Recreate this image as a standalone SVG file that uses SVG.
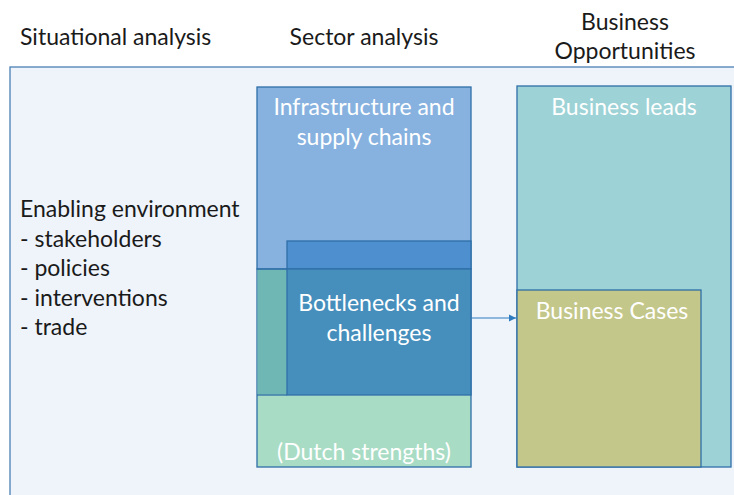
<svg xmlns="http://www.w3.org/2000/svg" width="734" height="495" viewBox="0 0 734 495">
<defs>
<style>
.hd{font-family:Lato,"Open Sans","Liberation Sans",sans-serif;font-size:23px;fill:#1a1a1a}
.wt{font-family:Lato,"Open Sans","Liberation Sans",sans-serif;font-size:23px;fill:#ffffff;text-anchor:middle}
.bx{stroke:#2f6fa8;stroke-width:1.3}
</style>
<marker id="ah" markerWidth="8" markerHeight="8" refX="7" refY="4" orient="auto" markerUnits="userSpaceOnUse">
<path d="M0,0.5 L7,4 L0,7.5 Z" fill="#2f7bc0"/>
</marker>
</defs>
<rect width="734" height="495" fill="#ffffff"/>
<g id="headers">
<text class="hd" x="20" y="45">Situational analysis</text>
<text class="hd" x="364" y="45" text-anchor="middle">Sector analysis</text>
<text class="hd" x="625" y="30" text-anchor="middle">Business</text>
<text class="hd" x="625" y="59" text-anchor="middle">Opportunities</text>
</g>
<g id="frame">
<rect x="10" y="67" width="740" height="450" fill="#eef4fa" stroke="#4a7fb5" stroke-width="1.3"/>
</g>
<g id="enabling">
<text class="hd" x="20" y="217">Enabling environment</text>
<text class="hd" x="20" y="247">- stakeholders</text>
<text class="hd" x="20" y="276">- policies</text>
<text class="hd" x="20" y="306">- interventions</text>
<text class="hd" x="20" y="335">- trade</text>
</g>
<g id="dutch">
<rect class="bx" x="257" y="269" width="214" height="198" fill="#a9dcc5"/>
<text class="wt" x="364" y="460">(Dutch strengths)</text>
</g>
<g id="infrastructure">
<rect class="bx" x="257" y="87" width="214" height="182" fill="#87b2df"/>
<rect x="257.6" y="269.6" width="29.4" height="125" fill="#6fb7b5"/>
<text class="wt" x="364" y="115">Infrastructure and</text>
<text class="wt" x="364" y="145">supply chains</text>
</g>
<g id="bottlenecks">
<rect class="bx" x="287" y="241" width="184" height="28" fill="#4d8fcf"/>
<rect class="bx" x="287" y="269" width="184" height="126" fill="#468fbd"/>
<line x1="257" y1="269" x2="287" y2="269" stroke="#2f6fa8" stroke-width="1.3"/>
<line x1="257" y1="395" x2="287" y2="395" stroke="#2f6fa8" stroke-width="1.3"/>
<text class="wt" x="379" y="311">Bottlenecks and</text>
<text class="wt" x="379" y="341">challenges</text>
</g>
<g id="leads">
<rect class="bx" x="517" y="86" width="214" height="381" fill="#9dd2d6"/>
<text class="wt" x="624" y="115">Business leads</text>
</g>
<g id="cases">
<rect class="bx" x="517" y="290" width="184" height="177" fill="#c4c78a"/>
<text class="wt" x="612" y="319">Business Cases</text>
</g>
<g id="connectors">
<line x1="471" y1="318" x2="516" y2="318" stroke="#2f7bc0" stroke-width="1" marker-end="url(#ah)"/>
</g>
</svg>
